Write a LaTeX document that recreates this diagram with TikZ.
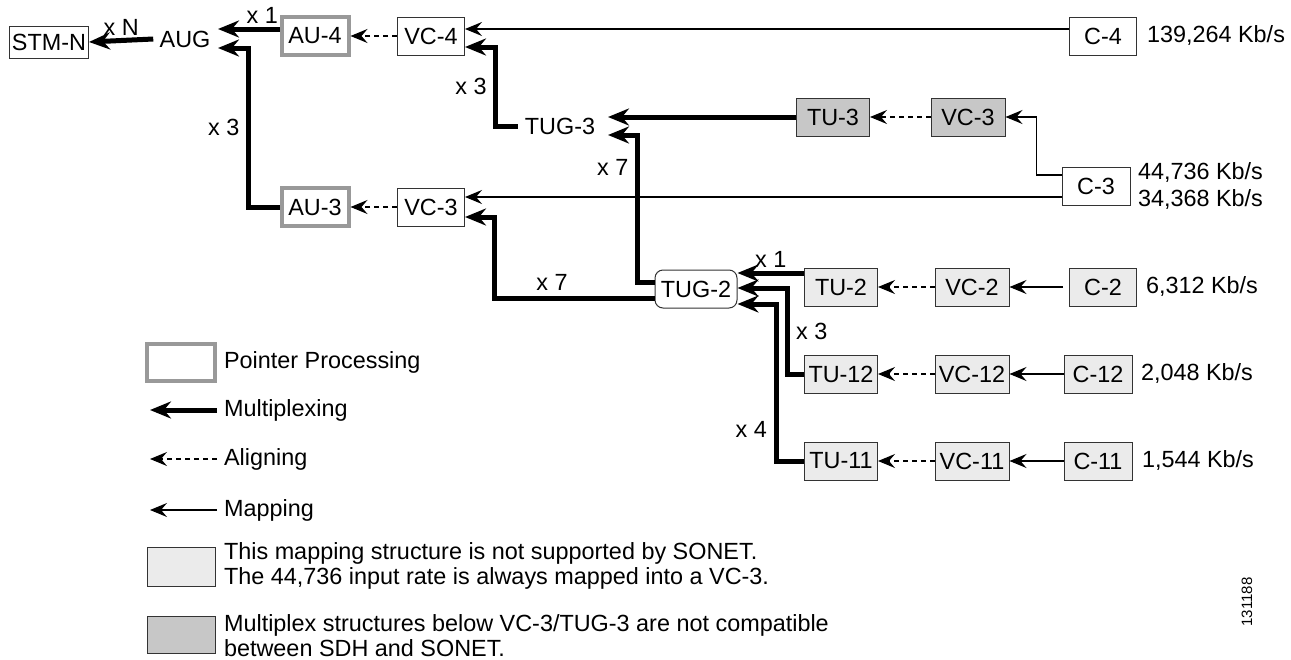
\documentclass[tikz,border=0pt]{standalone}
\usepackage{fontspec}
\setmainfont{Liberation Sans}
\usetikzlibrary{arrows.meta,calc}

\tikzset{
  box/.style={draw=black!80, line width=0.5pt, minimum width=33.5pt, minimum height=19pt, inner sep=1pt},
  ptr/.style={box, draw=black!40, line width=2pt},
  lite/.style={box, fill=black!8},
  dark/.style={box, fill=black!22},
  mux/.style={line width=2.5pt, -{Stealth[length=10.5pt,width=8.5pt,inset=3.5pt]}},
  aligning/.style={line width=0.6pt, dash pattern=on 2.5pt off 2pt, -{Stealth[length=8.5pt,width=7pt,inset=3pt]}},
  mapping/.style={line width=0.6pt, -{Stealth[length=8.5pt,width=7pt,inset=3pt]}},
  rate/.style={anchor=west}
}

\begin{document}
\begin{tikzpicture}[x=0.5pt,y=-0.5pt,font=\fontsize{11.7}{14}\selectfont]
  \useasboundingbox (0,0) rectangle (1291,659);
  % AU-4 / VC-4 / C-4 row
  \node[box,minimum width=39.5pt,minimum height=16pt] (stmn) at (49,42) {STM-N};
  \node[inner sep=3pt] (aug) at (185,39) {AUG};
  \node[ptr] (au4) at (315,36) {AU-4};
  \node[box] (vc4) at (431,36) {VC-4};
  \node[box] (c4) at (1103,36) {C-4};
  \node[rate] at (1140,36) {139,264 Kb/s};
  % TUG-3 row
  \node (tug3) at (560,126) {TUG-3};
  \node[dark,minimum width=36.5pt] (tu3) at (833,117) {TU-3};
  \node[dark,minimum width=37pt] (vc3g) at (968,117) {VC-3};
  \node[box,minimum width=34pt] (c3) at (1096,186) {C-3};
  \node[rate,align=left,font=\fontsize{11.7}{13.5}\selectfont] at (1131,186.5) {44,736 Kb/s\\34,368 Kb/s};
  % AU-3 / VC-3 row
  \node[ptr] (au3) at (315,207) {AU-3};
  \node[box] (vc3) at (431,207) {VC-3};
  % TUG-2 and its inputs
  \node[box,rounded corners=4pt,minimum width=41pt] (tug2) at (696,289) {TUG-2};
  \node[lite,minimum width=36.5pt] (tu2) at (841,287) {TU-2};
  \node[lite,minimum width=37pt] (vc2) at (972,287) {VC-2};
  \node[lite] (c2) at (1103,287) {C-2};
  \node[rate] at (1139,287) {6,312 Kb/s};
  \node[lite,minimum width=36.5pt] (tu12) at (841,374) {TU-12};
  \node[lite,minimum width=37pt] (vc12) at (972,374) {VC-12};
  \node[lite,minimum width=34pt] (c12) at (1098,374) {C-12};
  \node[rate] at (1134,374) {2,048 Kb/s};
  \node[lite,minimum width=36.5pt] (tu11) at (841,461) {TU-11};
  \node[lite,minimum width=37pt] (vc11) at (972,461) {VC-11};
  \node[lite,minimum width=34pt] (c11) at (1098,461) {C-11};
  \node[rate] at (1135,461) {1,544 Kb/s};
  % arrow ends at the text-only nodes
  \coordinate (aug-a) at (218,29);
  \coordinate (aug-b) at (218,48);
  \coordinate (tug3-a) at (608,117);
  \coordinate (tug3-b) at (608,135);

  % multiplexing
  \draw[mux] (aug.west) -- (stmn.east) node[midway,above=-2pt] {x N};
  \draw[mux] (au4.west |- aug-a) -- (aug-a) node[pos=0.28,above=-2pt] {x 1};
  \draw[mux] (au3.west) -- ++(-31,0) |- (aug-b) node[pos=0.25,left] {x 3};
  \draw[mux] (tug3.west) -- ++(-22,0) |- ($(vc4.east)+(0,11)$) node[pos=0.25,left] {x 3};
  \draw[mux] (tu3.west) -- (tug3-a);
  \draw[mux] ($(tug2.west)+(0,-7)$) -- ++(-17,0) |- (tug3-b) node[pos=0.39,left] {x 7};
  \draw[mux] ($(tug2.west)+(0,9)$) -- ++(-160,0) node[pos=0.64,above=-1pt] {x 7} |- ($(vc3.east)+(0,10)$);
  \draw[mux] ($(tu2.west)+(0,-14)$) -- ($(tug2.east)+(0,-16)$) node[midway,above=-2pt] {x 1};
  \draw[mux] (tu12.west) -- ++(-17,0) |- ($(tug2.east)+(0,-1)$) node[pos=0.25,right] {x 3};
  \draw[mux] (tu11.west) -- ++(-28,0) |- ($(tug2.east)+(0,15)$) node[pos=0.1,left] {x 4};
  % aligning
  \draw[aligning] (vc4.west) -- (au4.east);
  \draw[aligning] (vc3.west) -- (au3.east);
  \draw[aligning] (vc3g.west) -- (tu3.east);
  \draw[aligning] (vc2.west) -- (tu2.east);
  \draw[aligning] (vc12.west) -- (tu12.east);
  \draw[aligning] (vc11.west) -- (tu11.east);
  % mapping
  \draw[mapping] ($(c4.west)+(0,-7)$) -- ($(vc4.east)+(0,-7)$);
  \draw[mapping] ($(c3.west)+(0,-11)$) -- ++(-25,0) |- (vc3g.east);
  \draw[mapping] ($(c3.west)+(0,11)$) -- ($(vc3.east)+(0,-10)$);
  \draw[mapping] ($(c2.west)+(-6,0)$) -- (vc2.east);
  \draw[mapping] (c12.west) -- (vc12.east);
  \draw[mapping] (c11.west) -- (vc11.east);

  % legend
  \node[ptr,minimum width=34pt,minimum height=18.5pt] (lptr) at (181,362) {};
  \node[anchor=west] (lptrtxt) at (217,362) {Pointer Processing};
  \node[anchor=west] (lmux) at (217,410) {Multiplexing};
  \draw[mux] (lmux.west) -- ++(-67,0);
  \node[anchor=west] (lalign) at (217,459) {Aligning};
  \draw[aligning] (lalign.west) -- ++(-67,0);
  \node[anchor=west] (lmap) at (217,510) {Mapping};
  \draw[mapping] (lmap.west) -- ++(-67,0);
  \node[lite,minimum width=34pt,minimum height=19.5pt] (llite) at (181,567) {};
  \node[anchor=west,align=left,inner ysep=0pt,font=\fontsize{11.7}{12.5}\selectfont] (llitetxt) at (217,565.5)
    {This mapping structure is not supported by SONET.\\The 44,736 input rate is always mapped into a VC-3.};
  \node[dark,minimum width=34pt,minimum height=18.5pt] (ldark) at (181,634.5) {};
  \node[anchor=west,align=left,inner ysep=0pt,font=\fontsize{11.7}{12.5}\selectfont] (ldarktxt) at (217,636)
    {Multiplex structures below VC-3/TUG-3 are not compatible\\between SDH and SONET.};
  \node[rotate=90,font=\fontsize{7.5}{9}\selectfont] (fignum) at (1247,602) {131188};
\end{tikzpicture}
\end{document}
